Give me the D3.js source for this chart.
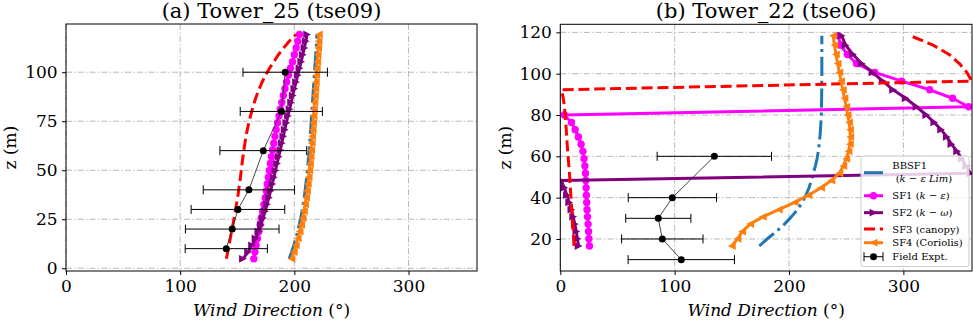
<!DOCTYPE html>
<html><head><meta charset="utf-8">
<script src="https://cdn.jsdelivr.net/npm/d3@7"></script>
<style>
body{margin:0;background:#fff}
svg{display:block}
text{font-family:"DejaVu Serif",serif;fill:#000}
</style>
</head><body>
<svg id="chart" width="973" height="320"></svg>
<script>
// ---------------- DATA ----------------
const titles = ["(a) Tower_25 (tse09)", "(b) Tower_22 (tse06)"];
const xTicks = [0, 100, 200, 300];
const yTicksA = [0, 25, 50, 75, 100];
const yTicksB = [20, 40, 60, 80, 100, 120];
const seriesNames = ["BBSF1", "SF1", "SF2", "SF3", "SF4"];

// Panel (a) Tower_25 : simulation heights (m) and wind directions (deg)
const zA = [4.8,8.3,11.7,15.2,18.7,22.2,25.6,29.1,32.6,36.0,39.5,43.0,46.4,49.9,53.4,56.9,60.3,63.8,67.3,70.7,74.2,77.7,81.1,84.6,88.1,91.6,95.0,98.5,102.0,105.4,108.9,112.4,115.8,119.3];
const bbsf1A = [195.5,197.6,199.5,201.3,202.9,204.3,205.6,206.7,207.7,208.6,209.4,210.1,210.8,211.4,212,212.5,213,213.5,213.9,214.3,214.7,215.1,215.5,215.9,216.3,216.7,217.1,217.5,217.9,218.3,218.7,219.1,219.5,219.8];
const sf1A = [164.5,165.5,166.5,167.7,169,170,171,172.2,173.4,174.5,175.5,176.3,177.2,178.1,179,180,181,182,183,184.1,185.3,186.6,187.8,189,190.4,191.8,193.3,194.9,196.6,198.4,200,201.6,203,204.5];
const sf2A = [155,159.5,163,166,168.5,170.7,172.6,174.4,176.1,177.7,179.2,180.7,182.1,183.5,184.9,186.3,187.7,189,190.3,191.6,193,194.4,195.8,197.2,198.6,200,201.5,203,204.5,206,207.4,208.8,210,211.2];
const sf3A = [140.5,141.6,142.7,143.9,145,146.2,147.3,148.3,149.3,150.3,151.2,152,152.8,153.5,154.2,155,155.8,156.7,157.7,158.8,160.2,161.6,163.2,164.9,167,169.3,171.8,174.8,178.3,182,186,190.7,195.5,201.5];
const sf4A = [197.5,199.5,201.3,203,204.6,206,207.3,208.4,209.4,210.3,211.1,211.8,212.5,213.1,213.7,214.2,214.7,215.2,215.6,216,216.4,216.8,217.2,217.6,218,218.4,218.8,219.2,219.6,220,220.4,220.8,221.2,221.5];
const fieldZA = [10, 20, 30, 40, 60, 80, 100];
const fieldDirA = [140.4, 145.6, 150.6, 160.2, 172.8, 188.6, 192];
const fieldErrA = [36, 41, 41, 40, 38, 36, 37];

// Panel (b) Tower_22
const zB = [16.6,20.1,23.6,27.2,30.7,34.2,37.7,41.2,44.8,48.3,51.8,55.3,58.8,62.4,65.9,69.4,72.9,76.4,80.0,84.0,88.1,92.2,96.4,100.6,104.9,109.3,113.8,118.4];
const bbsf1B = [174,181,189,196,202,207.5,211.5,214.8,217.5,219.5,221.2,223,224.5,225.6,226.4,227,227.5,227.9,228.2,228.4,228.5,228.6,228.6,228.7,228.7,228.7,228.7,228.7];
const sf1B = [25.5,25,24.7,24.3,23.8,23.4,23.1,22.8,22.6,22.3,22,21.5,20.7,19.8,18.2,15.8,13,9.8,3.5,357,343,323,298.5,275,259,251,245,243];
const sf2B = [16,15,14,12.7,11.3,9.7,7.8,5.8,3.5,0.8,358.5,355,351,347,342,338,333,327,320,311.5,302,291,282,273,263.5,256,249.5,246];
const sf3B = [12,11.6,11.2,10.8,10.4,10,9.6,9.2,8.8,8.4,8,7.5,7,6.5,6,5.6,5.2,4.8,4.3,3.6,2.6,1,359.8,355.5,349,340,326,306];
const sf4B = [150,155,159,166,177,191,205,217,228,237,244,247.5,250,252,253.2,253.5,253.3,252.5,251.3,250,248.5,247,245.5,244,242.5,241,239.8,238.5];
const fieldZB = [10, 20, 30, 40, 60];
const fieldDirB = [105.8, 89.2, 85.7, 98, 134.7];
const fieldErrB = [46.5, 35.6, 28.5, 38.6, 50];

const legendLabels = [
  [[{t:"BBSF1",i:false}], [{t:"(",i:false},{t:"k",i:true},{t:" − ",i:false},{t:"ε Lim",i:true},{t:")",i:false}]],
  [[{t:"SF1 (",i:false},{t:"k",i:true},{t:" − ",i:false},{t:"ε",i:true},{t:")",i:false}]],
  [[{t:"SF2 (",i:false},{t:"k",i:true},{t:" − ",i:false},{t:"ω",i:true},{t:")",i:false}]],
  [[{t:"SF3 (canopy)",i:false}]],
  [[{t:"SF4 (Coriolis)",i:false}]],
  [[{t:"Field Expt.",i:false}]]
];

// ---------------- STYLES / LAYOUT ----------------
const styles = {
  BBSF1:{color:"#1f77b4", dash:"19.2,4.8,3,4.8", marker:null},
  SF1:{color:"#ff00ff", dash:null, marker:"circle"},
  SF2:{color:"#800080", dash:null, marker:"right"},
  SF3:{color:"#ff0000", dash:"11,4.8", marker:null},
  SF4:{color:"#ff7f0e", dash:null, marker:"left"}
};
const LW = 3;
const panels = [
  {id:"a", left:66, right:477, top:24, bottom:271, zDomain:[-1.4,124.6], yTicks:yTicksA, title:titles[0],
   z:zA, series:[bbsf1A,sf1A,sf2A,sf3A,sf4A], fz:fieldZA, fd:fieldDirA, fe:fieldErrA, ylabX:15.5},
  {id:"b", left:560.3, right:972, top:24.3, bottom:271, zDomain:[4.5,123.9], yTicks:yTicksB, title:titles[1],
   z:zB, series:[bbsf1B,sf1B,sf2B,sf3B,sf4B], fz:fieldZB, fd:fieldDirB, fe:fieldErrB, ylabX:510.5, legend:true}
];

const svg = d3.select("#chart");
svg.append("rect").attr("width",973).attr("height",320).attr("fill","#fff");
const defs = svg.append("defs");

function markerPath(type, r){
  if(type==="right") return `M${r},0L${-r},${-r}L${-r},${r}Z`;
  if(type==="left") return `M${-r},0L${r},${-r}L${r},${r}Z`;
  return null;
}
function drawMarker(g, type, color, cx, cy){
  if(type==="circle"){
    g.append("circle").attr("cx",cx).attr("cy",cy).attr("r",3.7).attr("fill",color);
  } else {
    g.append("path").attr("d",markerPath(type,3.9)).attr("transform",`translate(${cx},${cy})`).attr("fill",color);
  }
}
function rich(textSel, parts){
  parts.forEach(p=>textSel.append("tspan").attr("font-style",p.i?"italic":"normal").text(p.t));
}

panels.forEach(p=>{
  const x = d3.scaleLinear().domain([0,360]).range([p.left,p.right]);
  const y = d3.scaleLinear().domain(p.zDomain).range([p.bottom,p.top]);
  const g = svg.append("g");
  defs.append("clipPath").attr("id","clip"+p.id).append("rect")
    .attr("x",p.left).attr("y",p.top).attr("width",p.right-p.left).attr("height",p.bottom-p.top);

  // grid
  const grid = g.append("g").attr("stroke","#b0b0b0").attr("stroke-width",0.9).attr("stroke-dasharray","6,2.2,1.4,2.2");
  xTicks.forEach(t=>grid.append("line").attr("x1",x(t)).attr("x2",x(t)).attr("y1",p.top).attr("y2",p.bottom));
  p.yTicks.forEach(t=>grid.append("line").attr("x1",p.left).attr("x2",p.right).attr("y1",y(t)).attr("y2",y(t)));

  // axes
  const ax = g.append("g").attr("transform",`translate(0,${p.bottom})`)
    .call(d3.axisBottom(x).tickValues(xTicks).tickSize(4).tickPadding(4.6).tickFormat(d3.format("d")));
  const ay = g.append("g").attr("transform",`translate(${p.left},0)`)
    .call(d3.axisLeft(y).tickValues(p.yTicks).tickSize(4).tickPadding(4.4).tickFormat(d3.format("d")));
  [ax,ay].forEach(a=>{
    a.select(".domain").remove();
    a.selectAll("text").attr("font-family","DejaVu Serif").attr("font-size",17).attr("fill","#000");
    a.selectAll("line").attr("stroke","#000").attr("stroke-width",1);
  });

  // series
  const plot = g.append("g").attr("clip-path",`url(#clip${p.id})`);
  const line = d3.line().x(d=>x(d[1])).y(d=>y(d[0]));
  seriesNames.forEach((name,si)=>{
    const st = styles[name];
    const pts = p.z.map((z,i)=>[z,p.series[si][i]]);
    const sg = plot.append("g");
    sg.append("path").attr("d",line(pts)).attr("fill","none").attr("stroke",st.color)
      .attr("stroke-width",LW).attr("stroke-dasharray",st.dash).attr("stroke-linejoin","round");
    if(st.marker) pts.forEach(d=>drawMarker(sg, st.marker, st.color, x(d[1]), y(d[0])));
  });

  // field experiment
  const fg = plot.append("g");
  const fpts = p.fz.map((z,i)=>[z,p.fd[i],p.fe[i]]);
  fg.append("path").attr("d",line(fpts)).attr("fill","none").attr("stroke","#333").attr("stroke-width",0.9);
  fpts.forEach(d=>{
    const cy=y(d[0]), x1=x(d[1]-d[2]), x2=x(d[1]+d[2]);
    fg.append("line").attr("x1",x1).attr("x2",x2).attr("y1",cy).attr("y2",cy).attr("stroke","#000").attr("stroke-width",1);
    [x1,x2].forEach(cx=>fg.append("line").attr("x1",cx).attr("x2",cx).attr("y1",cy-4.5).attr("y2",cy+4.5).attr("stroke","#000").attr("stroke-width",1));
    fg.append("circle").attr("cx",x(d[1])).attr("cy",cy).attr("r",3.5).attr("fill","#000");
  });

  // spine
  g.append("rect").attr("x",p.left).attr("y",p.top).attr("width",p.right-p.left).attr("height",p.bottom-p.top)
    .attr("fill","none").attr("stroke","#000").attr("stroke-width",1);

  // title and labels
  const cx = (p.left+p.right)/2;
  g.append("text").attr("x",cx).attr("y",17.5).attr("text-anchor","middle").attr("font-size",21).text(p.title);
  const xl = g.append("text").attr("x",cx).attr("y",315.5).attr("text-anchor","middle").attr("font-size",17);
  rich(xl,[{t:"Wind Direction",i:true},{t:" (°)",i:false}]);
  g.append("text").attr("transform",`translate(${p.ylabX},${(p.top+p.bottom)/2}) rotate(-90)`)
    .attr("text-anchor","middle").attr("font-size",17).text("z (m)");

  // legend
  if(p.legend){
    const lg = g.append("g");
    lg.append("rect").attr("x",861).attr("y",156).attr("width",108).attr("height",110.5).attr("rx",2.5)
      .attr("fill","#fff").attr("fill-opacity",0.8).attr("stroke","#cccccc").attr("stroke-width",1);
    const rowsY = [172.7,195.7,212.7,229,242.7,256.7];
    const hx1=864, hx2=883, hm=(hx1+hx2)/2, tx=892.3;
    seriesNames.forEach((name,i)=>{
      const st=styles[name], ry=rowsY[i];
      lg.append("line").attr("x1",hx1).attr("x2",hx2).attr("y1",ry).attr("y2",ry).attr("stroke",st.color)
        .attr("stroke-width",LW).attr("stroke-dasharray",st.dash);
      if(st.marker) drawMarker(lg, st.marker, st.color, hm, ry);
    });
    const fy=rowsY[5];
    lg.append("line").attr("x1",hx1).attr("x2",hx2).attr("y1",fy).attr("y2",fy).attr("stroke","#000").attr("stroke-width",1);
    [hx1,hx2].forEach(c=>lg.append("line").attr("x1",c).attr("x2",c).attr("y1",fy-4.5).attr("y2",fy+4.5).attr("stroke","#000"));
    lg.append("circle").attr("cx",hm).attr("cy",fy).attr("r",3.5).attr("fill","#000");
    legendLabels.forEach((lines,i)=>{
      if(lines.length===2){
        rich(lg.append("text").attr("x",tx).attr("y",168.6).attr("font-size",10), lines[0]);
        rich(lg.append("text").attr("x",895.7).attr("y",181.9).attr("font-size",10), lines[1]);
      } else {
        rich(lg.append("text").attr("x",tx).attr("y",rowsY[i]+3.6).attr("font-size",10), lines[0]);
      }
    });
  }
});
</script>
</body></html>
